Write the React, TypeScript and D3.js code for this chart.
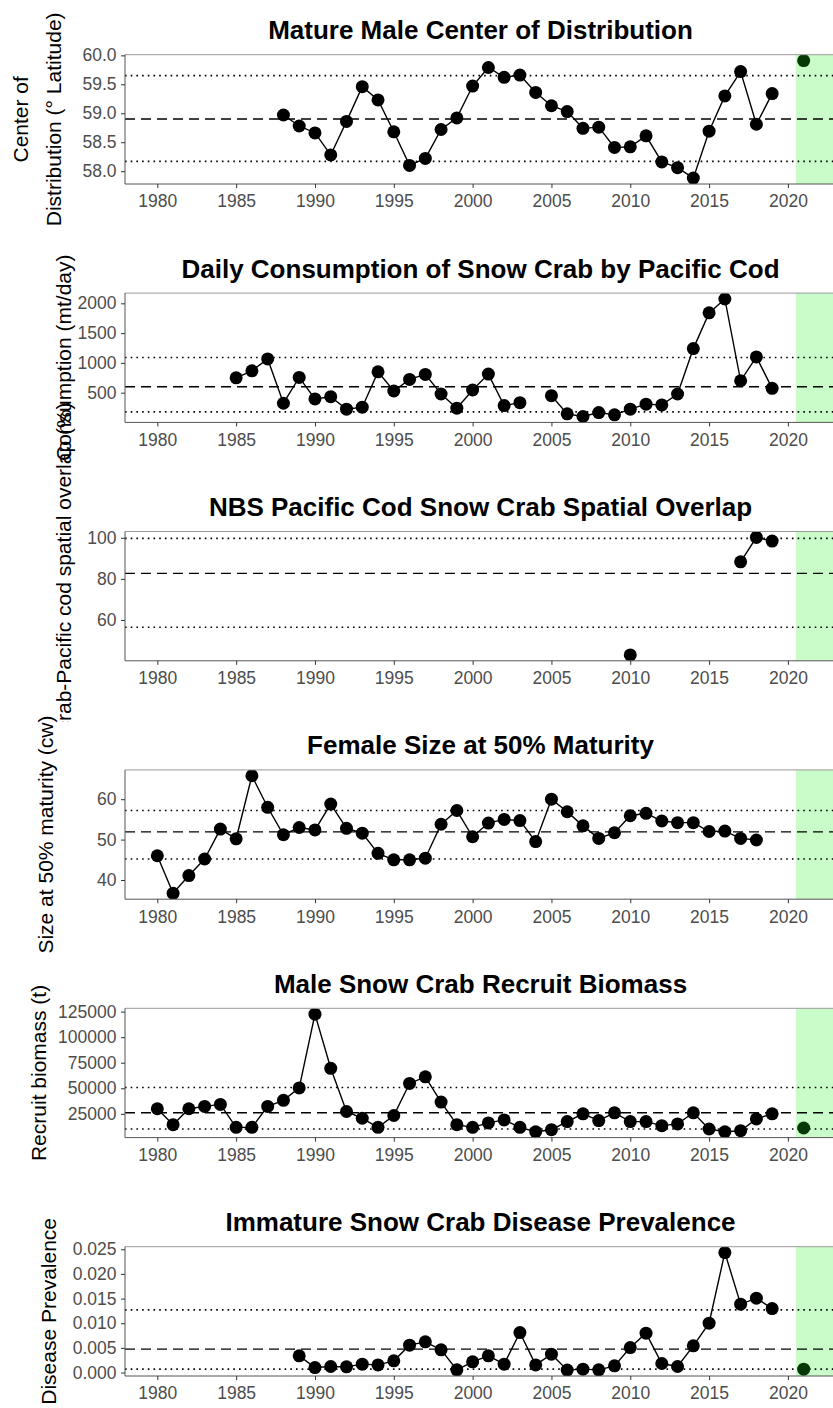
import React, { useEffect, useRef } from 'react';
import * as d3 from 'd3';

// consecutive-year series, null = no survey that year
const centerStart = 1988;
const centerValues = [
  58.97, 58.78, 58.66, 58.28, 58.86, 59.46, 59.23, 58.68, 58.1, 58.22,
  58.72, 58.92, 59.47, 59.79, 59.62, 59.66, 59.36, 59.13, 59.03, 58.74,
  58.76, 58.41, 58.42, 58.61, 58.16, 58.06, 57.88, 58.69, 59.3, 59.72,
  58.81, 59.34,
];
const centerLatest = 59.91;
const centerRefs = [59.65, 58.9, 58.17];

const codStart = 1985;
const codValues = [
  750, 867, 1067, 323, 756, 395, 433, 223, 257, 850,
  528, 723, 807, 478, 240, 545, 812, 283, 333, null,
  450, 145, 100, 167, 128, 223, 307, 295, 478, 1240,
  1840, 2073, 700, 1100, 573,
];
const codRefs = [1090, 600, 178];

const overlapStart = 2010;
const overlapValues = [43.0, null, null, null, null, null, null, 88.3, 100.2, 98.4];
const overlapRefs = [99.7, 82.7, 56.5];

const maturityStart = 1980;
const maturityValues = [
  46.0, 36.7, 41.1, 45.2, 52.6, 50.2, 65.8, 58.0, 51.2, 53.0,
  52.4, 58.8, 52.8, 51.6, 46.6, 45.0, 45.0, 45.4, 53.8, 57.2,
  50.7, 54.1, 55.0, 54.7, 49.5, 60.0, 56.9, 53.4, 50.3, 51.7,
  55.9, 56.5, 54.6, 54.2, 54.2, 52.0, 52.1, 50.3, 49.9,
];
const maturityRefs = [57.2, 51.9, 45.2];

const recruitStart = 1980;
const recruitValues = [
  29950, 14400, 29950, 32230, 34210, 11740, 11740, 32230, 38170, 50380,
  122500, 69560, 27290, 20640, 11740, 23330, 54700, 61240, 36500, 14400,
  11740, 16090, 19050, 11740, 7480, 9460, 17400, 25000, 18370, 26000,
  17400, 17400, 13420, 15100, 26000, 10140, 7480, 8470, 20030, 25000,
];
const recruitLatest = 11140;
const recruitRefs = [50740, 26000, 10150];

const diseaseStart = 1989;
const diseaseValues = [
  0.00338, 0.00101, 0.00122, 0.00115, 0.0017, 0.00155, 0.00237, 0.00555, 0.00622, 0.0046,
  0.00055, 0.00217, 0.00338, 0.0017, 0.00811, 0.00155, 0.00373, 0.00049, 0.00069, 0.00055,
  0.00136, 0.00507, 0.00799, 0.00183, 0.00122, 0.00541, 0.01001, 0.02433, 0.01386, 0.01508,
  0.01297,
];
const diseaseLatest = 0.00069;
const diseaseRefs = [0.0127, 0.00474, 0.00069];

const latestYear = 2021;
const xTicks = [1980, 1985, 1990, 1995, 2000, 2005, 2010, 2015, 2020];

const titles = [
  'Mature Male Center of Distribution',
  'Daily Consumption of Snow Crab by Pacific Cod',
  'NBS Pacific Cod Snow Crab Spatial Overlap',
  'Female Size at 50% Maturity',
  'Male Snow Crab Recruit Biomass',
  'Immature Snow Crab Disease Prevalence',
];
const yLabels = [
  ['Center of', 'Distribution (° Latitude)'],
  ['Consumption (mt/day)'],
  ['Snow crab-Pacific cod spatial overlap (%)'],
  ['Size at 50% maturity (cw)'],
  ['Recruit biomass (t)'],
  ['Disease Prevalence'],
];
const yTicks = [
  [58.0, 58.5, 59.0, 59.5, 60.0],
  [500, 1000, 1500, 2000],
  [60, 80, 100],
  [40, 50, 60],
  [25000, 50000, 75000, 100000, 125000],
  [0, 0.005, 0.01, 0.015, 0.02, 0.025],
];
const tickFormats = ['.1f', 'd', 'd', 'd', 'd', '.3f'];

const panels = [
  { start: centerStart, values: centerValues, latest: centerLatest, refs: centerRefs },
  { start: codStart, values: codValues, latest: null, refs: codRefs },
  { start: overlapStart, values: overlapValues, latest: null, refs: overlapRefs },
  { start: maturityStart, values: maturityValues, latest: null, refs: maturityRefs },
  { start: recruitStart, values: recruitValues, latest: recruitLatest, refs: recruitRefs },
  { start: diseaseStart, values: diseaseValues, latest: diseaseLatest, refs: diseaseRefs },
];

const FONT = "'Liberation Sans', Arial, Helvetica, sans-serif";

export default function App() {
  const ref = useRef<SVGSVGElement>(null);

  useEffect(() => {
    if (!ref.current) return;
    const svg = d3.select(ref.current);
    svg.selectAll('*').remove();

    const W = 833;
    const left = 125;
    const right = 836;
    const firstTop = 54.7;
    const step = 238.4;
    const h = 129.3;
    const labelSize = 21;
    const labelX = [[22.5, 55], [65], [65], [47], [40], [50]];

    const x = d3.scaleLinear().domain([1977.95, 2023.05]).range([left, right]);

    panels.forEach((p, i) => {
      const top = firstTop + i * step;
      const bottom = top + h;
      const g = svg.append('g');

      // each subplot paints its own white background over the one above
      g.append('rect')
        .attr('x', 0).attr('y', top - 48)
        .attr('width', W).attr('height', step)
        .attr('fill', '#fff');

      const pts = p.values
        .map((v, k) => ({ year: p.start + k, value: v }))
        .filter(d => d.value != null) as { year: number; value: number }[];
      const all = pts.map(d => d.value).concat(p.latest != null ? [p.latest] : []);
      const [lo, hi] = d3.extent(all) as [number, number];
      const pad = (hi - lo) * 0.05;
      const y = d3.scaleLinear().domain([lo - pad, hi + pad]).range([bottom, top]);

      const clipId = `clip-${i}`;
      g.append('clipPath').attr('id', clipId)
        .append('rect')
        .attr('x', left).attr('y', top)
        .attr('width', right - left).attr('height', h);

      const plot = g.append('g').attr('clip-path', `url(#${clipId})`);

      // projection band
      plot.append('rect')
        .attr('x', x(2020.5)).attr('y', top)
        .attr('width', right - x(2020.5)).attr('height', h)
        .attr('fill', '#c9fcc9');

      // reference lines: upper, mean, lower
      p.refs.forEach((r, k) => {
        plot.append('line')
          .attr('x1', left).attr('x2', right)
          .attr('y1', y(r)).attr('y2', y(r))
          .attr('stroke', '#000')
          .attr('stroke-width', k === 1 ? 1.4 : 1.6)
          .attr('stroke-dasharray', k === 1 ? '10,6' : '1.6,4.1');
      });

      const line = d3.line<{ year: number; value: number | null }>()
        .defined(d => d.value != null)
        .x(d => x(d.year))
        .y(d => y(d.value as number));

      plot.append('path')
        .datum(p.values.map((v, k) => ({ year: p.start + k, value: v })))
        .attr('fill', 'none')
        .attr('stroke', '#000')
        .attr('stroke-width', 1.4)
        .attr('d', line);

      plot.selectAll('.dot')
        .data(pts)
        .enter()
        .append('circle')
        .attr('cx', d => x(d.year))
        .attr('cy', d => y(d.value))
        .attr('r', 6.5)
        .attr('fill', '#000');

      if (p.latest != null) {
        plot.append('circle')
          .attr('cx', x(latestYear))
          .attr('cy', y(p.latest))
          .attr('r', 6.5)
          .attr('fill', '#073807');
      }

      // panel border
      g.append('line')
        .attr('x1', left).attr('x2', W)
        .attr('y1', top).attr('y2', top)
        .attr('stroke', '#9a9a9a').attr('stroke-width', 1);

      // axes
      const xAxis = g.append('g')
        .attr('transform', `translate(0,${bottom})`)
        .call(d3.axisBottom(x).tickValues(xTicks).tickFormat(d3.format('d')).tickSize(4).tickSizeOuter(0).tickPadding(7));
      xAxis.select('.domain').attr('stroke', '#555').attr('d', `M${left},0H${W}`);

      const yAxis = g.append('g')
        .attr('transform', `translate(${left},0)`)
        .call(d3.axisLeft(y).tickValues(yTicks[i]).tickFormat(d3.format(tickFormats[i])).tickSize(4).tickSizeOuter(0).tickPadding(4.5));
      yAxis.select('.domain').attr('stroke', '#555').attr('d', `M0,${top}V${bottom}`);

      [xAxis, yAxis].forEach(ax => {
        ax.selectAll('.tick line').attr('stroke', '#333');
        ax.selectAll('.tick text')
          .attr('fill', '#4d4d4d')
          .attr('font-size', 17.5)
          .attr('font-family', FONT);
      });

      // title
      g.append('text')
        .attr('x', (left + right) / 2)
        .attr('y', top - 15.5)
        .attr('text-anchor', 'middle')
        .attr('font-family', FONT)
        .attr('font-weight', 'bold')
        .attr('font-size', 26)
        .attr('fill', '#000')
        .text(titles[i]);

      // y label
      const cy = (top + bottom) / 2;
      yLabels[i].forEach((lab, k) => {
        const cx = labelX[i][k];
        g.append('text')
          .attr('transform', `translate(${cx + 0.27 * labelSize},${cy}) rotate(-90)`)
          .attr('text-anchor', 'middle')
          .attr('font-family', FONT)
          .attr('font-size', labelSize)
          .attr('fill', '#000')
          .text(lab);
      });
    });
  }, []);

  return (
    <svg
      ref={ref}
      width={833}
      height={1408}
      style={{ position: 'absolute', left: 0, top: 0, background: '#fff' }}
    />
  );
}
